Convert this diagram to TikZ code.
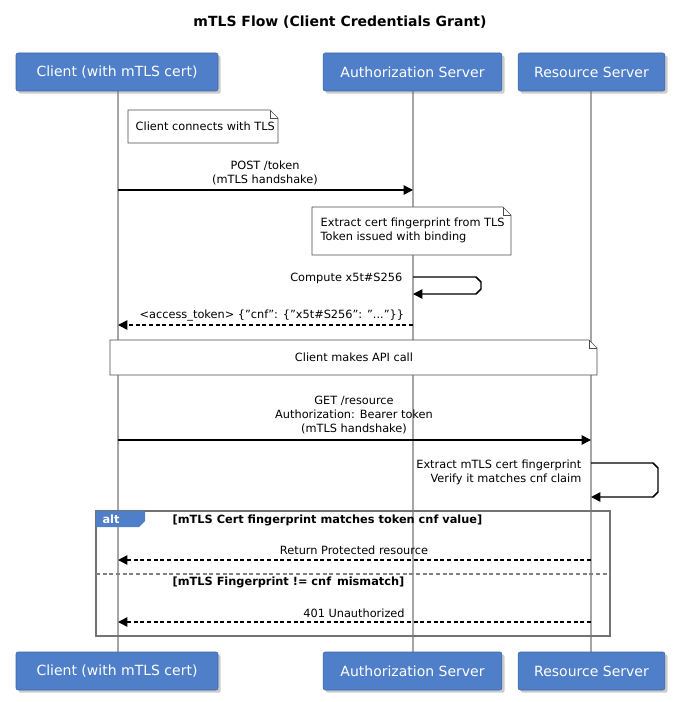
\documentclass[tikz,border=0pt]{standalone}
\usepackage{fontspec}
\setmainfont{DejaVu Sans}
\usetikzlibrary{arrows.meta,shadows}
\definecolor{pblue}{HTML}{4F7FC9}
\begin{document}
\begin{tikzpicture}[x=0.75pt,y=-0.75pt,
 actor/.style={draw=pblue!80!black,fill=pblue,text=white,font=\fontsize{10.5}{12}\selectfont,minimum height=28.5pt,rounded corners=1.5pt,drop shadow={shadow xshift=2pt,shadow yshift=-2pt,opacity=0.4}},
 life/.style={draw=gray!70,line width=1pt},
 msg/.style={line width=1.1pt,-{Triangle[length=7pt,width=7pt]}},
 ret/.style={msg,dash pattern=on 3pt off 2pt},
 lbl/.style={font=\fontsize{8.5}{10.5}\selectfont,align=center},
 notetext/.style={font=\fontsize{8.5}{10.5}\selectfont,align=left,anchor=west}]
\useasboundingbox (0,0) rectangle (680,702);
\node[font=\bfseries\fontsize{10.5}{12}\selectfont] (title) at (340,22) {mTLS Flow (Client Credentials Grant)};
% lifelines
\draw[life] (118,91) -- (118,652);
\draw[life] (413,91) -- (413,652);
\draw[life] (591,91) -- (591,652);
\foreach \y/\s in {72/t,671/b}{
 \node[actor,minimum width=151.5pt] (c\s) at (117,\y) {Client (with mTLS cert)};
 \node[actor,minimum width=134pt] (a\s) at (412.5,\y) {Authorization Server};
 \node[actor,minimum width=110pt] (r\s) at (591.5,\y) {Resource Server};}
% note 1
\draw[fill=white,draw=black!70] (128,110) -- (270,110) -- (278,118) -- (278,143) -- (128,143) -- cycle;
\draw[draw=black!70] (270,110) -- (270,118) -- (278,118);
\node[notetext] (n1) at (131,126.5) {Client connects with TLS};
% POST
\coordinate (p1) at (118,190); \coordinate (p2) at (413,190);
\draw[msg] (p1) -- (p2);
\node[lbl] (l1) at (265,173) {POST /token\\(mTLS handshake)};
% note 2
\draw[fill=white,draw=black!70] (312,207) -- (503,207) -- (511,215) -- (511,255) -- (312,255) -- cycle;
\draw[draw=black!70] (503,207) -- (503,215) -- (511,215);
\node[notetext] (n2) at (316,230) {Extract cert fingerprint from TLS\\Token issued with binding};
% self
\draw[msg] (413,277) -- (476,277) to[out=0,in=0,looseness=0] (481,282) -- (481,289) -- (476,294) -- (413,294);
\node[lbl,anchor=east] (l2) at (407,278) {Compute x5t\#S256};
% return
\draw[ret] (413,325) -- (118,325);
\node[lbl,anchor=west] (l3) at (135,316) {<access\_token> \{"cnf": \{"x5t\#S256": "..."\}\}};
% note 3
\draw[fill=white,draw=black!70] (110,340) -- (589,340) -- (597,348) -- (597,375) -- (110,375) -- cycle;
\draw[draw=black!70] (589,340) -- (589,348) -- (597,348);
\node[lbl] (n3) at (354,357.5) {Client makes API call};
% GET
\draw[msg] (118,440) -- (591,440);
\node[lbl] (l4) at (354,415) {GET /resource\\Authorization: Bearer token\\(mTLS handshake)};
\draw[msg] (591,463) -- (653,463) -- (658,468) -- (658,492) -- (653,497) -- (591,497);
\node[lbl,anchor=east,align=right] (l5) at (586,472) {Extract mTLS cert fingerprint\\Verify it matches cnf claim};
% alt
\draw[gray!90!black,line width=1pt] (96,511) rectangle (610,636);
\fill[pblue] (96,511) -- (145,511) -- (145,521) -- (139,527) -- (96,527) -- cycle;
\node[text=white,font=\bfseries\fontsize{8.5}{10}\selectfont] (alt) at (111,519) {alt};
\node[font=\bfseries\fontsize{8.5}{10}\selectfont,anchor=west] (g1) at (168,520) {[mTLS Cert fingerprint matches token cnf value]};
\draw[ret] (591,560) -- (118,560);
\node[lbl] (l6) at (354,550) {Return Protected resource};
\draw[gray,line width=0.8pt,dash pattern=on 3pt off 2pt] (96,574) -- (610,574);
\node[font=\bfseries\fontsize{8.5}{10}\selectfont,anchor=west] (g2) at (168,582) {[mTLS Fingerprint != cnf\, mismatch]};
\draw[ret] (591,622) -- (118,622);
\node[lbl] (l7) at (354,613) {401 Unauthorized};
\end{tikzpicture}
\end{document}
